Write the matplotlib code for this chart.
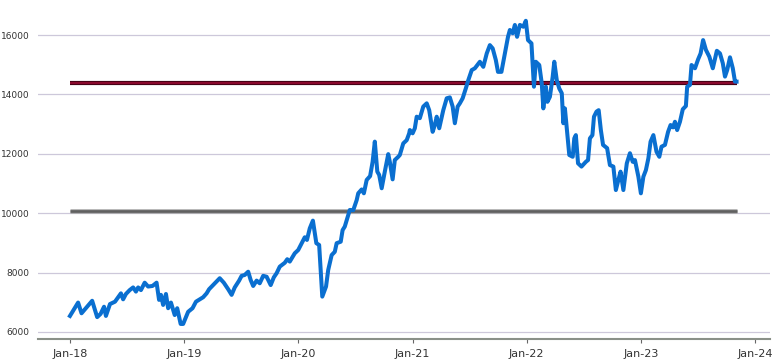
import matplotlib
matplotlib.use("Agg")
import matplotlib.pyplot as plt
import pandas as pd

dates = [
    "2018-01-01", "2018-01-27", "2018-02-07", "2018-03-13", "2018-03-29", "2018-04-09", "2018-04-20", "2018-04-26",
    "2018-05-09", "2018-05-25", "2018-06-07", "2018-06-13", "2018-06-20", "2018-06-29", "2018-07-11", "2018-07-22",
    "2018-07-31", "2018-08-07", "2018-08-16", "2018-08-28", "2018-09-08", "2018-09-22", "2018-10-05", "2018-10-13",
    "2018-10-19", "2018-10-26", "2018-11-04", "2018-11-11", "2018-11-20", "2018-12-02", "2018-12-10", "2018-12-21",
    "2018-12-29", "2019-01-14", "2019-01-28", "2019-02-08", "2019-03-03", "2019-03-14", "2019-03-22", "2019-04-04",
    "2019-04-25", "2019-05-08", "2019-05-22", "2019-06-02", "2019-06-12", "2019-06-26", "2019-07-04", "2019-07-14",
    "2019-07-25", "2019-08-02", "2019-08-10", "2019-08-21", "2019-08-31", "2019-09-11", "2019-09-22", "2019-10-05",
    "2019-10-15", "2019-10-24", "2019-11-03", "2019-11-19", "2019-11-27", "2019-12-05", "2019-12-21", "2020-01-01",
    "2020-01-22", "2020-01-29", "2020-02-07", "2020-02-17", "2020-02-28", "2020-03-08", "2020-03-18", "2020-03-30",
    "2020-04-06", "2020-04-17", "2020-04-27", "2020-05-03", "2020-05-16", "2020-05-22", "2020-05-29", "2020-06-09",
    "2020-06-14", "2020-06-25", "2020-07-06", "2020-07-11", "2020-07-22", "2020-07-29", "2020-08-07", "2020-08-18",
    "2020-08-26", "2020-09-02", "2020-09-10", "2020-09-16", "2020-09-24", "2020-10-04", "2020-10-15", "2020-10-20",
    "2020-10-29", "2020-11-05", "2020-11-16", "2020-11-21", "2020-12-02", "2020-12-13", "2020-12-21", "2020-12-23",
    "2021-01-01", "2021-01-08", "2021-01-14", "2021-01-24", "2021-02-04", "2021-02-15", "2021-02-23", "2021-03-06",
    "2021-03-13", "2021-03-19", "2021-03-27", "2021-04-09", "2021-04-20", "2021-04-30", "2021-05-09", "2021-05-16",
    "2021-05-25", "2021-06-01", "2021-06-10", "2021-06-20", "2021-06-28", "2021-07-09", "2021-07-19", "2021-08-04",
    "2021-08-15", "2021-08-26", "2021-09-05", "2021-09-14", "2021-09-24", "2021-10-01", "2021-10-12", "2021-10-23",
    "2021-11-02", "2021-11-08", "2021-11-17", "2021-11-24", "2021-12-01", "2021-12-10", "2021-12-21", "2021-12-29",
    "2022-01-05", "2022-01-16", "2022-01-24", "2022-01-30", "2022-02-10", "2022-02-18", "2022-02-23", "2022-03-03",
    "2022-03-08", "2022-03-16", "2022-03-25", "2022-03-30", "2022-04-07", "2022-04-15", "2022-04-23", "2022-04-28",
    "2022-05-03", "2022-05-17", "2022-05-28", "2022-06-02", "2022-06-07", "2022-06-14", "2022-06-25", "2022-07-09",
    "2022-07-16", "2022-07-22", "2022-07-30", "2022-08-04", "2022-08-12", "2022-08-19", "2022-08-26", "2022-09-02",
    "2022-09-15", "2022-09-24", "2022-10-05", "2022-10-13", "2022-10-21", "2022-10-28", "2022-11-06", "2022-11-17",
    "2022-11-27", "2022-12-06", "2022-12-13", "2022-12-24", "2023-01-01", "2023-01-09", "2023-01-17", "2023-01-25",
    "2023-02-01", "2023-02-10", "2023-02-20", "2023-03-01", "2023-03-08", "2023-03-19", "2023-03-29", "2023-04-06",
    "2023-04-14", "2023-04-20", "2023-04-27", "2023-05-06", "2023-05-15", "2023-05-25", "2023-05-29", "2023-06-07",
    "2023-06-12", "2023-06-23", "2023-07-03", "2023-07-11", "2023-07-19", "2023-07-28", "2023-08-08", "2023-08-19",
    "2023-09-01", "2023-09-11", "2023-09-20", "2023-09-27", "2023-10-04", "2023-10-13", "2023-10-22", "2023-10-29",
    "2023-11-03",
]

values = [
    6540, 6990, 6630, 7050, 6500, 6610, 6850, 6540,
    6940, 7020, 7210, 7300, 7100, 7280, 7410, 7500,
    7360, 7500, 7410, 7660, 7530, 7550, 7660, 7080,
    7250, 6910, 7280, 6800, 6990, 6570, 6800, 6270,
    6270, 6680, 6800, 7020, 7170, 7300, 7440, 7580,
    7810, 7660, 7440, 7250, 7500, 7730, 7890, 7920,
    8030, 7750, 7550, 7730, 7640, 7890, 7860, 7580,
    7840, 7980, 8200, 8330, 8450, 8370, 8650, 8760,
    9190, 9100, 9490, 9750, 8990, 8930, 7190, 7530,
    8090, 8590, 8700, 8990, 9040, 9430, 9550, 9940,
    10110, 10100, 10440, 10670, 10800, 10670, 11120, 11250,
    11730, 12410, 11400, 11290, 10840, 11400, 11990, 11730,
    11140, 11790, 11900, 11960, 12350, 12460, 12690, 12800,
    12690, 12860, 13250, 13200, 13590, 13700, 13470, 12740,
    12970, 13250, 12860, 13470, 13870, 13900, 13590, 13030,
    13590, 13700, 13870, 14200, 14480, 14820, 14880, 15100,
    14930, 15380, 15660, 15550, 15160, 14760, 14760, 15380,
    15940, 16170, 16060, 16340, 15940, 16340, 16280, 16480,
    15830, 15720, 14260, 15100, 14990, 14370, 13530, 14260,
    13750, 13920, 14600, 15100, 14480, 14200, 14040, 13030,
    13530, 11960, 11900, 12520, 12630, 11680, 11570, 11730,
    11790, 12520, 12630, 13250, 13420, 13470, 12800, 12300,
    12190, 11620, 11570, 10780, 11120, 11400, 10780, 11680,
    12020, 11730, 11790, 11230, 10670, 11230, 11450, 11850,
    12410, 12630, 12070, 11900, 12240, 12300, 12740, 12970,
    12890, 13080, 12800, 13080, 13500, 13610, 14260, 14320,
    14990, 14880, 15180, 15380, 15830, 15500, 15270, 14880,
    15470, 15380, 15050, 14600, 14820, 15250, 14880, 14430,
    14430,
]

upper_level = 14400
lower_level = 10080
y_ticks = [6000, 8000, 10000, 12000, 14000, 16000]
x_ticks = ["2018-01-01", "2019-01-01", "2020-01-01", "2021-01-01", "2022-01-01", "2023-01-01", "2024-01-01"]
x_tick_labels = ["Jan-18", "Jan-19", "Jan-20", "Jan-21", "Jan-22", "Jan-23", "Jan-24"]

d = pd.to_datetime(dates)

fig = plt.figure(figsize=(7.77, 3.61), dpi=100)
ax = fig.add_axes([0.049, 0.061, 0.942, 0.939])

for yt in y_ticks:
    ax.axhline(yt, color="#cdc8da", lw=0.9, zorder=1)

ax.hlines(upper_level, d[0], d[-1], color="#3a0010", lw=3.0, zorder=3)
ax.hlines(upper_level, d[0], d[-1], color="#8a0a2e", lw=1.7, zorder=3)
ax.hlines(lower_level, d[0], d[-1], color="#a8a8a8", lw=3.3, zorder=2)
ax.hlines(lower_level, d[0], d[-1], color="#606060", lw=1.9, zorder=2)

ax.plot(d, values, color="#0a6fd0", lw=2.9, solid_joinstyle="round", zorder=4)

ax.set_ylim(5764, 17180)
ax.set_xlim(pd.Timestamp("2017-09-21"), pd.Timestamp("2024-02-18"))
ax.set_yticks(y_ticks)
ax.set_yticklabels([str(v) for v in y_ticks])
ax.set_xticks(pd.to_datetime(x_ticks))
ax.set_xticklabels(x_tick_labels)

for s in ["top", "right", "left"]:
    ax.spines[s].set_visible(False)
ax.spines["bottom"].set_color("#8a9088")
ax.spines["bottom"].set_linewidth(1.5)
ax.tick_params(axis="y", length=0, labelsize=6.5, colors="#333333", pad=6)
ax.tick_params(axis="x", length=3, width=0.8, color="#666666", labelsize=8, labelcolor="#333333", pad=4)

fig.savefig("out.png", dpi=100)
